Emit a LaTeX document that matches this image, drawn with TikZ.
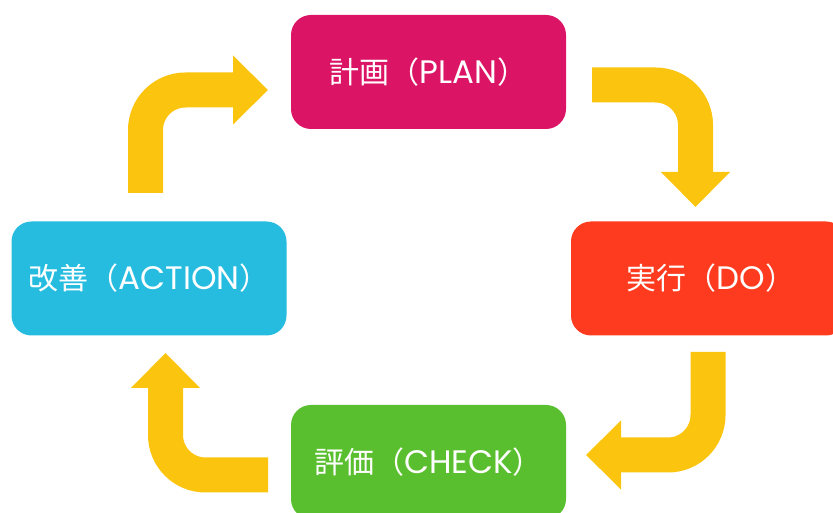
\documentclass[tikz,border=0pt]{standalone}
\usepackage{fontspec}
\setmainfont{Noto Sans CJK JP}
\newfontfamily\latfont{Poppins}
\usetikzlibrary{arrows.meta}
\definecolor{plancol}{RGB}{220,20,102}
\definecolor{docol}{RGB}{255,59,31}
\definecolor{checkcol}{RGB}{90,191,47}
\definecolor{actcol}{RGB}{37,188,224}
\definecolor{arrcol}{RGB}{251,196,14}
\newcommand\lbl[2]{#1（{\latfont\fontsize{32.5}{36}\selectfont #2}）}
\tikzset{b/.style={rounded corners=20pt,minimum width=275pt,minimum height=114pt,
  inner sep=0pt,text=white,font=\fontsize{30}{36}\selectfont}}
\tikzset{f/.style={line width=35pt,draw=arrcol,rounded corners=40pt,
  -{Triangle[width=67pt,length=35pt,fill=arrcol]}}}

\begin{document}
\begin{tikzpicture}[x=1pt,y=1pt]
  \useasboundingbox (0,0) rectangle (833,513);
  \clip (0,0) rectangle (833,513);
  % boxes
  \node[b,fill=plancol] (plan) at (428.5,441) {\lbl{計画}{PLAN}};
  \node[b,fill=docol] (do) at (708.5,234.5) {\hspace{5pt}\lbl{実行}{DO}};
  \node[b,fill=checkcol] (check) at (428.5,51) {\lbl{評価}{CHECK}};
  \node[b,fill=actcol] (act) at (149,234.5) {\lbl{改善}{ACTION}};
  % arrow ends
  \coordinate (a1) at (145.5,320);
  \coordinate (a2) at (268,423);
  \coordinate (d1) at (592,428);
  \coordinate (d2) at (695.5,306);
  \coordinate (c1) at (708,161);
  \coordinate (c2) at (586,58);
  \coordinate (k1) at (268,38);
  \coordinate (k2) at (165.5,160);
  \draw[f] (a1) |- (a2);
  \draw[f] (d1) -| (d2);
  \draw[f] (c1) |- (c2);
  \draw[f] (k1) -| (k2);
\end{tikzpicture}
\end{document}
